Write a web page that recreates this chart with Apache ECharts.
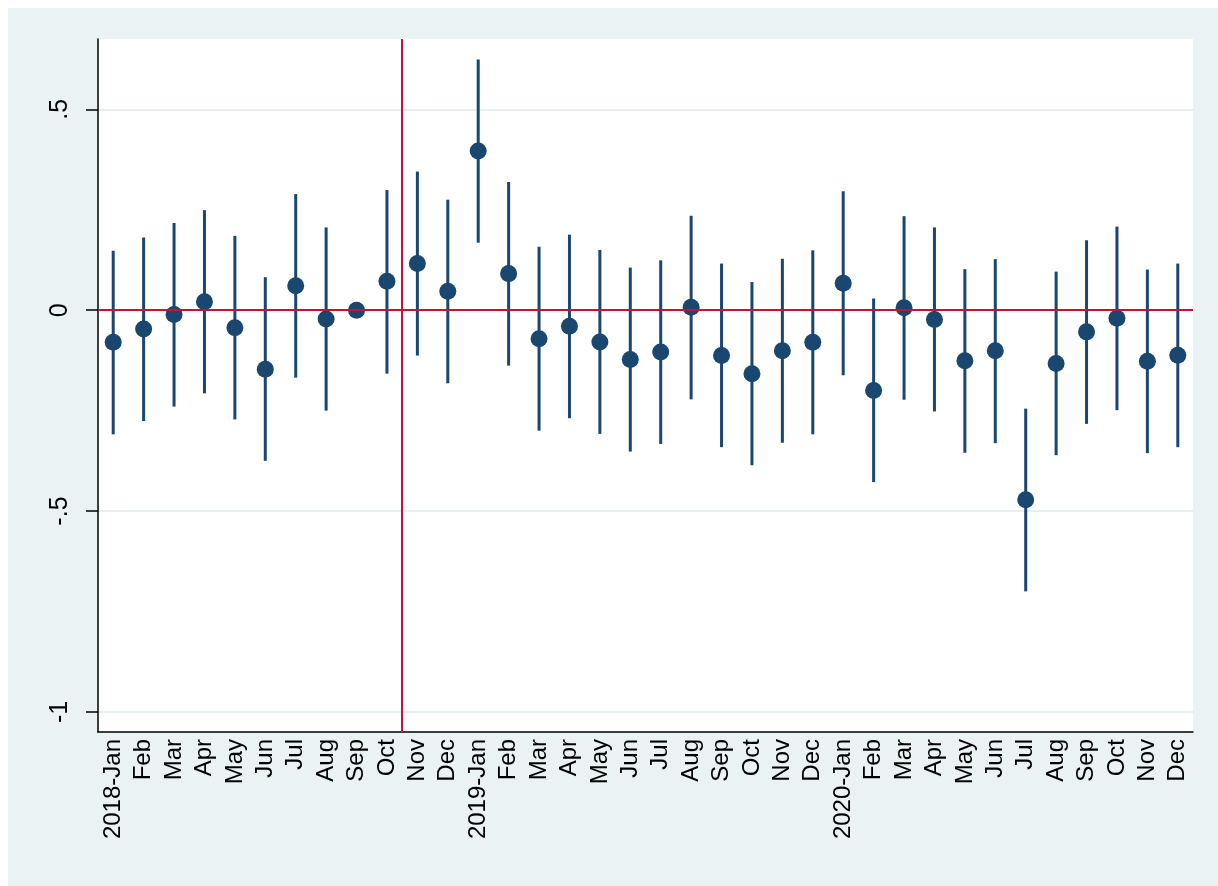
<!DOCTYPE html>
<html>
<head>
<meta charset="utf-8">
<script src="https://cdn.jsdelivr.net/npm/echarts@6/dist/echarts.min.js"></script>
<style>
  html, body { margin: 0; padding: 0; background: #eaf2f3; overflow: hidden; }
  #chart { position: absolute; left: 0; top: 0; width: 1218px; height: 886px; }
</style>
</head>
<body>
<div id="chart"></div>
<script>
const categories = [
  '2018-Jan','Feb','Mar','Apr','May','Jun','Jul','Aug','Sep','Oct','Nov','Dec',
  '2019-Jan','Feb','Mar','Apr','May','Jun','Jul','Aug','Sep','Oct','Nov','Dec',
  '2020-Jan','Feb','Mar','Apr','May','Jun','Jul','Aug','Sep','Oct','Nov','Dec'
];
const coef = [
  -0.080, -0.047, -0.011, 0.021, -0.044, -0.147, 0.061, -0.022, 0.000, 0.072, 0.116, 0.047,
  0.396, 0.091, -0.071, -0.040, -0.079, -0.123, -0.104, 0.007, -0.113, -0.158, -0.101, -0.080,
  0.067, -0.200, 0.006, -0.023, -0.126, -0.101, -0.472, -0.133, -0.054, -0.020, -0.127, -0.112
];
const ciLow = [
  -0.309, -0.276, -0.240, -0.207, -0.272, -0.375, -0.168, -0.250, null, -0.158, -0.113, -0.182,
  0.168, -0.138, -0.300, -0.269, -0.308, -0.352, -0.333, -0.222, -0.341, -0.386, -0.330, -0.309,
  -0.162, -0.428, -0.223, -0.252, -0.355, -0.331, -0.700, -0.361, -0.283, -0.249, -0.356, -0.341
];
const ciHigh = [
  0.148, 0.181, 0.217, 0.249, 0.185, 0.082, 0.289, 0.206, null, 0.299, 0.345, 0.275,
  0.624, 0.319, 0.158, 0.188, 0.150, 0.106, 0.124, 0.235, 0.116, 0.070, 0.128, 0.149,
  0.296, 0.029, 0.234, 0.206, 0.102, 0.127, -0.245, 0.096, 0.174, 0.208, 0.101, 0.116
];
const yTicks = [-1, -0.5, 0, 0.5];
const eventPosition = 9.5;   // between 2018-Oct and 2018-Nov
const refValue = 0;

const navy = '#1a476f';
const red = '#c8103c';

const ciData = [];
for (let i = 0; i < categories.length; i++) {
  if (ciLow[i] !== null && ciHigh[i] !== null) ciData.push([i, ciLow[i], ciHigh[i]]);
}

const chart = echarts.init(document.getElementById('chart'), null, { renderer: 'canvas' });
chart.setOption({
  backgroundColor: '#ffffff',
  animation: false,
  graphic: [{
    type: 'rect', z: -100, silent: true,
    shape: { x: 8, y: 8, width: 1210, height: 878 },
    style: { fill: '#eaf2f3' }
  }],
  grid: {
    left: 98, right: 25, top: 39, bottom: 154,
    show: true, backgroundColor: '#ffffff', borderWidth: 0
  },
  xAxis: [{
    type: 'category',
    data: categories,
    boundaryGap: true,
    axisLine: { show: true, onZero: false, lineStyle: { color: '#000', width: 1.5 } },
    axisTick: { show: false },
    axisLabel: {
      interval: 0, rotate: 90, margin: 7,
      color: '#000', fontFamily: 'Liberation Sans, Arial, sans-serif', fontSize: 24
    },
    splitLine: { show: false }
  }, {
    type: 'value', min: -0.5, max: 35.5, show: false
  }],
  yAxis: {
    type: 'value',
    min: -1.05, max: 0.675,
    axisLine: { show: true, onZero: false, lineStyle: { color: '#000', width: 1.5 } },
    axisTick: { show: true, length: 12, customValues: yTicks, lineStyle: { color: '#000', width: 1.5 } },
    axisLabel: {
      customValues: yTicks,
      rotate: 90, margin: 25,
      color: '#000', fontFamily: 'Liberation Sans, Arial, sans-serif', fontSize: 25,
      formatter: function (v) {
        if (v === 0) return '0';
        return (v < 0 ? '-' : '') + String(Math.abs(v)).replace(/^0/, '');
      }
    },
    splitLine: { show: true, lineStyle: { color: '#e6eef0', width: 2 } }
  },
  series: [
    {
      type: 'scatter', xAxisIndex: 1, data: [], z: 1, silent: true,
      markLine: {
        silent: true, symbol: 'none', animation: false,
        label: { show: false },
        lineStyle: { color: red, width: 2, type: 'solid' },
        data: [{ xAxis: eventPosition }, { yAxis: refValue }]
      }
    },
    {
      type: 'custom', z: 2, silent: true,
      data: ciData,
      encode: { x: 0, y: [1, 2] },
      renderItem: function (params, api) {
        const p1 = api.coord([api.value(0), api.value(1)]);
        const p2 = api.coord([api.value(0), api.value(2)]);
        return {
          type: 'line',
          shape: { x1: p1[0], y1: p1[1], x2: p2[0], y2: p2[1] },
          style: { stroke: navy, lineWidth: 3 }
        };
      }
    },
    {
      type: 'scatter', z: 3, silent: true,
      data: coef,
      symbol: 'circle', symbolSize: 17,
      itemStyle: { color: navy, opacity: 1 }
    }
  ]
});
</script>
</body>
</html>
